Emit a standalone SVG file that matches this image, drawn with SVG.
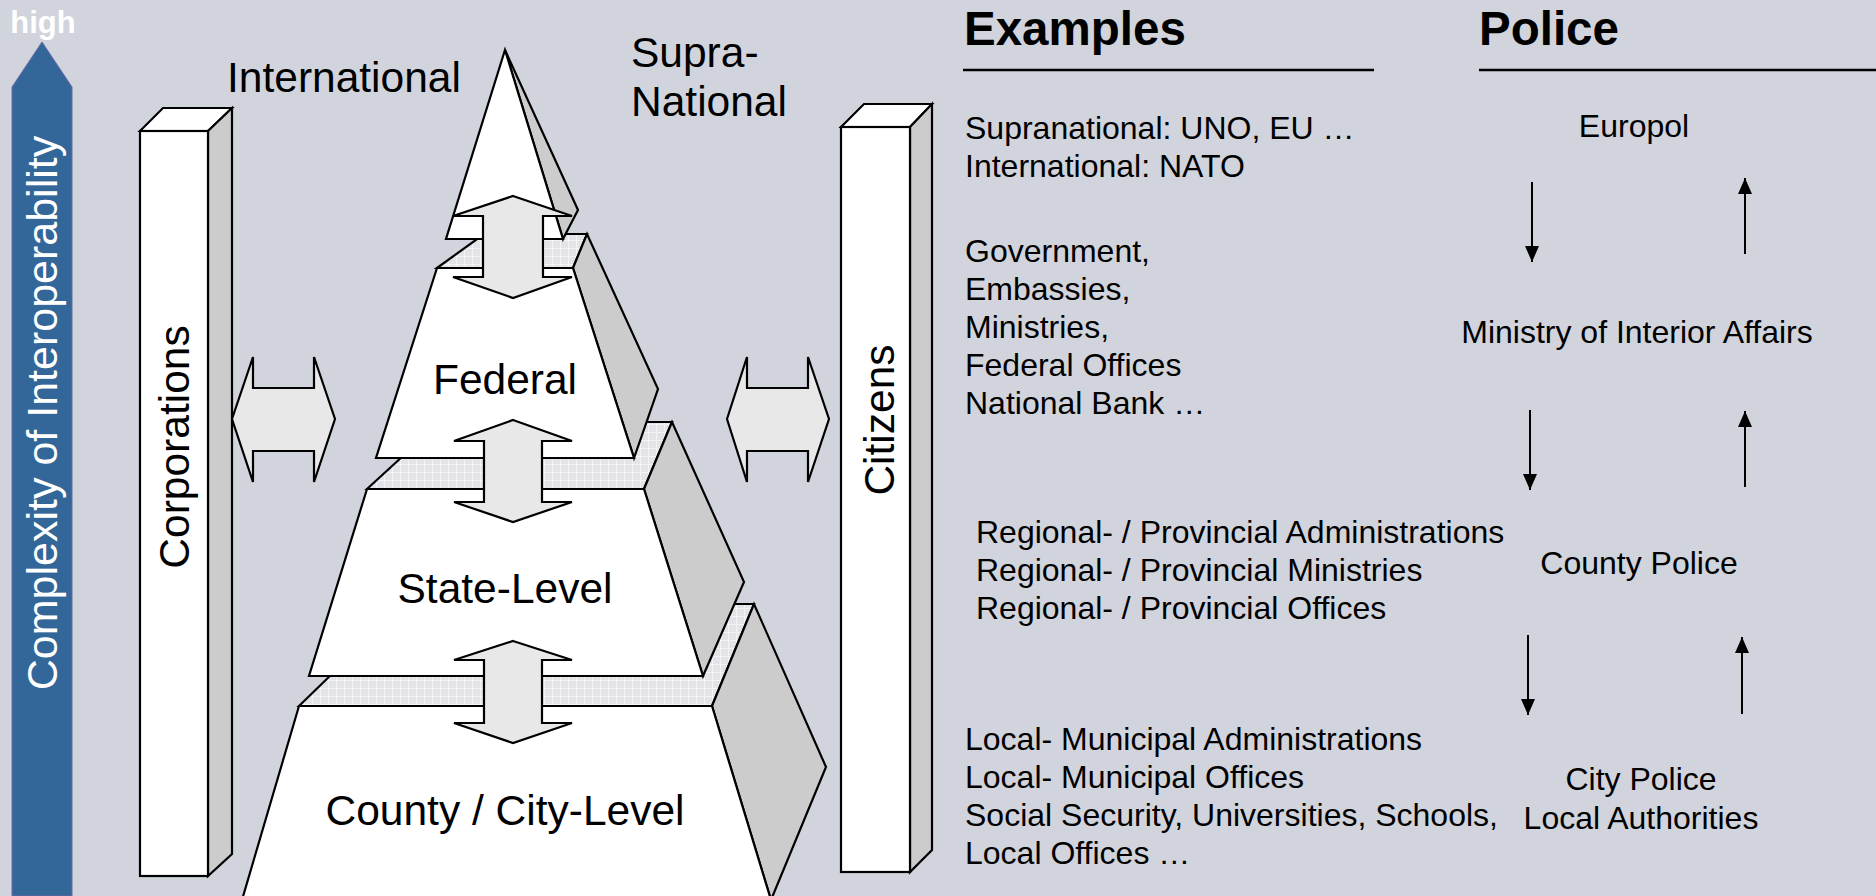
<svg xmlns="http://www.w3.org/2000/svg" width="1876" height="896" viewBox="0 0 1876 896">
<defs>
<style>
.t{font-family:"Liberation Sans",Arial,sans-serif;fill:#000}
.big{font-size:42.5px}
.mid{font-size:32px}
.hd{font-size:47.5px;font-weight:bold}
.face{fill:#fff;stroke:#000;stroke-width:2.2;stroke-linejoin:miter}
.side{fill:#cccccc;stroke:#000;stroke-width:2.2}
.slab{fill:url(#grid);stroke:#000;stroke-width:2.2}
.dbl{fill:#e8e8e8;stroke:#000;stroke-width:2.2}
.pl{stroke:#000;stroke-width:2;fill:none}
</style>
<pattern id="grid" width="8" height="8" patternUnits="userSpaceOnUse">
<rect width="8" height="8" fill="#e3e4e8"/>
<path d="M0,0.5H8M0.5,0V8" stroke="#f4f4f6" stroke-width="1"/>
</pattern>
<marker id="ah" viewBox="0 0 16 14" refX="16" refY="7" markerWidth="16" markerHeight="14" markerUnits="userSpaceOnUse" orient="auto">
<path d="M0,0 L16,7 L0,14 z" fill="#000"/>
</marker>
</defs>
<rect width="1876" height="896" fill="#d1d4dc"/>

<g id="axis">
<polygon points="12,896 12,87 42,42 72,87 72,896" fill="#336699" stroke="#6a6aa0" stroke-width="1"/>
<text class="t" x="43" y="33" text-anchor="middle" style="font-size:31px;font-weight:bold;fill:#fff">high</text>
<text class="t" transform="translate(57,413) rotate(-90)" text-anchor="middle" style="font-size:43px;fill:#fff">Complexity of Interoperability</text>
</g>

<g id="corporations">
<polygon class="face" points="140,131 163,108 232,108 208,131"/>
<polygon class="side" points="208,131 232,108 232,854 208,876"/>
<rect class="face" x="140" y="131" width="68" height="745"/>
<text class="t big" transform="translate(189,447) rotate(-90)" text-anchor="middle">Corporations</text>
</g>

<g id="citizens">
<polygon class="face" points="841,127 864,104 932,104 910,127"/>
<polygon class="side" points="910,127 932,104 932,850 910,872"/>
<rect class="face" x="841" y="127" width="69" height="745"/>
<text class="t big" transform="translate(894,420) rotate(-90)" text-anchor="middle">Citizens</text>
</g>

<g id="county">
<polygon class="slab" points="299,706 404,604 754,604 712,706"/>
<polygon class="side" points="712,706 754,604 826,767 771,900"/>
<polygon class="face" points="299,706 712,706 771,900 242,900"/>
<text class="t big" x="505" y="825" text-anchor="middle">County / City-Level</text>
</g>

<g id="state">
<polygon class="slab" points="367,489 440,422 672,422 644,489"/>
<polygon class="side" points="644,489 672,422 744,582 703,676"/>
<polygon class="face" points="367,489 644,489 703,676 309,676"/>
<text class="t big" x="505" y="603" text-anchor="middle">State-Level</text>
</g>

<g id="federal">
<polygon class="slab" points="437,268 484,234 587,234 573,268"/>
<polygon class="side" points="573,268 587,234 658,389 634,458"/>
<polygon class="face" points="437,268 573,268 634,458 376,458"/>
<text class="t big" x="505" y="394" text-anchor="middle">Federal</text>
</g>

<g id="supranational">
<polygon class="side" points="505,50 578,210 563,239"/>
<polygon class="face" points="505,50 563,239 446,239"/>
<text class="t big" x="227" y="92">International</text>
<text class="t big" x="631" y="67">Supra-</text>
<text class="t big" x="631" y="116">National</text>
</g>

<g id="connectors">
<polygon class="dbl" points="513,196 572,216 543,216 543,277 572,277 513,298 453,277 483,277 483,216 453,216"/>
<polygon class="dbl" points="513,420 572,441 542,441 542,502 572,502 513,522 454,502 484,502 484,441 454,441"/>
<polygon class="dbl" points="513,641 572,660 542,660 542,723 572,723 513,743 454,723 484,723 484,660 454,660"/>
<polygon class="dbl" points="232,419 253,357 253,388 314,388 314,357 335,419 314,482 314,451 253,451 253,482"/>
<polygon class="dbl" points="727,419 747,357 747,388 808,388 808,357 829,419 808,482 808,451 747,451 747,482"/>
<line class="pl" x1="1532" y1="182" x2="1532" y2="262" marker-end="url(#ah)"/>
<line class="pl" x1="1745" y1="254" x2="1745" y2="178" marker-end="url(#ah)"/>
<line class="pl" x1="1530" y1="410" x2="1530" y2="490" marker-end="url(#ah)"/>
<line class="pl" x1="1745" y1="487" x2="1745" y2="411" marker-end="url(#ah)"/>
<line class="pl" x1="1528" y1="635" x2="1528" y2="715" marker-end="url(#ah)"/>
<line class="pl" x1="1742" y1="714" x2="1742" y2="637" marker-end="url(#ah)"/>
</g>

<g id="examples">
<text class="t hd" x="964" y="45">Examples</text>
<line x1="963" y1="70" x2="1374" y2="70" stroke="#000" stroke-width="2.5"/>
<text class="t mid" x="965" y="139">Supranational: UNO, EU …</text>
<text class="t mid" x="965" y="177">International: NATO</text>
<text class="t mid" x="965" y="262">Government,</text>
<text class="t mid" x="965" y="300">Embassies,</text>
<text class="t mid" x="965" y="338">Ministries,</text>
<text class="t mid" x="965" y="376">Federal Offices</text>
<text class="t mid" x="965" y="414">National Bank …</text>
<text class="t mid" x="976" y="543">Regional- / Provincial Administrations</text>
<text class="t mid" x="976" y="581">Regional- / Provincial Ministries</text>
<text class="t mid" x="976" y="619">Regional- / Provincial Offices</text>
<text class="t mid" x="965" y="750">Local- Municipal Administrations</text>
<text class="t mid" x="965" y="788">Local- Municipal Offices</text>
<text class="t mid" x="965" y="826">Social Security, Universities, Schools,</text>
<text class="t mid" x="965" y="864">Local Offices …</text>
</g>

<g id="police">
<text class="t hd" x="1479" y="45">Police</text>
<line x1="1479" y1="70" x2="1876" y2="70" stroke="#000" stroke-width="2.5"/>
<text class="t mid" x="1634" y="137" text-anchor="middle">Europol</text>
<text class="t mid" x="1637" y="343" text-anchor="middle">Ministry of Interior Affairs</text>
<text class="t mid" x="1639" y="574" text-anchor="middle">County Police</text>
<text class="t mid" x="1641" y="790" text-anchor="middle">City Police</text>
<text class="t mid" x="1641" y="829" text-anchor="middle">Local Authorities</text>
</g>
</svg>
